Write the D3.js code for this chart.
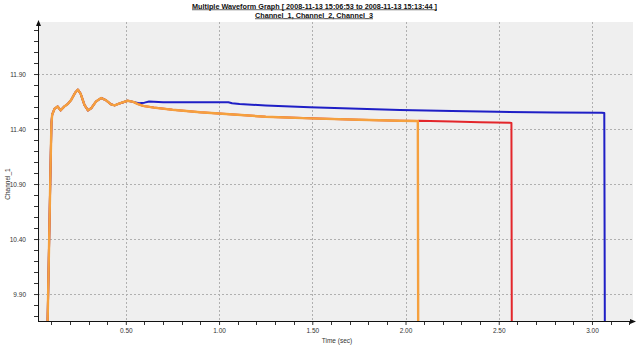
<!DOCTYPE html>
<html>
<head>
<meta charset="utf-8">
<script src="https://cdn.jsdelivr.net/npm/d3@7"></script>
<style>
  html, body { margin: 0; padding: 0; background: #ffffff; }
  svg { display: block; font-family: "Liberation Sans", Arial, sans-serif; }
</style>
</head>
<body>
<svg id="chart" width="640" height="348"></svg>
<script>
// Shared start-up transient (all three channels overlap here)
const startTime  = [0.080, 0.097, 0.101, 0.105, 0.118, 0.134, 0.150, 0.170, 0.190, 0.207, 0.228, 0.243, 0.258, 0.278, 0.297, 0.315, 0.340, 0.368, 0.395, 0.420, 0.440, 0.470, 0.510, 0.540];
const startValue = [9.60, 11.12, 11.45, 11.53, 11.585, 11.605, 11.57, 11.605, 11.63, 11.665, 11.73, 11.758, 11.72, 11.62, 11.57, 11.59, 11.65, 11.682, 11.66, 11.625, 11.615, 11.635, 11.657, 11.647];

// Channel tails after the transient
const ch1Time  = [0.570, 0.600, 0.625, 0.650, 0.700, 0.900, 1.050, 1.070, 1.110, 1.250, 1.487, 1.750, 1.970, 2.250, 2.490, 2.800, 3.053, 3.066, 3.069];
const ch1Value = [11.635, 11.640, 11.650, 11.648, 11.643, 11.643, 11.643, 11.634, 11.627, 11.614, 11.597, 11.585, 11.573, 11.563, 11.557, 11.551, 11.548, 11.545, 9.60];

const ch2Time  = [0.565, 0.594, 0.650, 0.750, 0.898, 1.058, 1.250, 1.487, 1.750, 1.970, 2.066, 2.072, 2.250, 2.400, 2.560, 2.568, 2.570];
const ch2Value = [11.627, 11.610, 11.595, 11.575, 11.552, 11.534, 11.512, 11.497, 11.485, 11.475, 11.473, 11.476, 11.468, 11.462, 11.457, 11.455, 9.60];

const ch3Time  = [0.565, 0.594, 0.650, 0.750, 0.898, 1.058, 1.250, 1.487, 1.750, 1.970, 2.066, 2.068];
const ch3Value = [11.627, 11.610, 11.595, 11.575, 11.552, 11.534, 11.512, 11.497, 11.485, 11.475, 11.473, 9.60];

const seriesNames  = ["Channel_1", "Channel_2", "Channel_3"];
const seriesColors = ["#1f1fc6", "#e3262b", "#f5a03e"];
const seriesWidths = [2, 2, 2.4];

const xMajorTicks = [0.5, 1.0, 1.5, 2.0, 2.5, 3.0];
const xMinorTicks = [0.1,0.2,0.3,0.4,0.6,0.7,0.8,0.9,1.1,1.2,1.3,1.4,1.6,1.7,1.8,1.9,2.1,2.2,2.3,2.4,2.6,2.7,2.8,2.9,3.1,3.2];
const yMajorTicks = [9.90, 10.40, 10.90, 11.40, 11.90];
const yMinorTicks = [9.70,9.80,10.00,10.10,10.20,10.30,10.50,10.60,10.70,10.80,11.00,11.10,11.20,11.30,11.50,11.60,11.70,11.80,12.00,12.10,12.20,12.30];

const titleLine1 = "Multiple Waveform Graph [ 2008-11-13 15:06:53 to 2008-11-13 15:13:44 ]";
const titleLine2 = "Channel_1, Channel_2, Channel_3";
const xTitle = "Time (sec)";
const yTitle = "Channel_1";

const svg = d3.select("#chart");
const L = 38, R = 633, T = 22, B = 321;

const x = d3.scaleLinear().domain([0.029, 3.22]).range([L, R]);
const y = d3.scaleLinear().domain([9.655, 12.373]).range([B, T]);

// plot background
svg.append("rect").attr("x", L).attr("y", T).attr("width", R - L).attr("height", B - T).attr("fill", "#efefef");

// dashed grid
const grid = svg.append("g").attr("stroke", "#b0b0b0").attr("stroke-width", 1).attr("stroke-dasharray", "2,2");
grid.selectAll(".gx").data(xMajorTicks).join("line")
  .attr("x1", d => Math.round(x(d)) + 0.5).attr("x2", d => Math.round(x(d)) + 0.5)
  .attr("y1", T).attr("y2", B);
grid.selectAll(".gy").data(yMajorTicks).join("line")
  .attr("y1", d => Math.round(y(d)) + 0.5).attr("y2", d => Math.round(y(d)) + 0.5)
  .attr("x1", L).attr("x2", R);

// series
const clip = svg.append("clipPath").attr("id", "plotClip");
clip.append("rect").attr("x", L).attr("y", T).attr("width", R - L).attr("height", B - T);

function build(tTail, vTail) {
  const t = startTime.concat(tTail), v = startValue.concat(vTail);
  return t.map((d, i) => [d, v[i]]);
}
const series = [build(ch1Time, ch1Value), build(ch2Time, ch2Value), build(ch3Time, ch3Value)];

const line = d3.line().x(d => x(d[0])).y(d => y(d[1]));
svg.append("g").attr("clip-path", "url(#plotClip)")
  .selectAll("path").data(series).join("path")
  .attr("d", line)
  .attr("fill", "none")
  .attr("stroke", (d, i) => seriesColors[i])
  .attr("stroke-width", (d, i) => seriesWidths[i])
  .attr("stroke-linejoin", "round");

// axes
const xAxis = d3.axisBottom(x).tickValues(xMajorTicks).tickFormat(d3.format(".2f")).tickSize(4).tickPadding(3);
const gx = svg.append("g").attr("transform", `translate(0,${B})`).call(xAxis);
gx.select(".domain").remove();
gx.selectAll(".tick line").attr("stroke", "#333");
gx.selectAll("text").attr("font-size", "6.5px").attr("fill", "#333").attr("font-family", "Liberation Sans, Arial, sans-serif");
svg.append("g").selectAll("line").data(xMinorTicks).join("line")
  .attr("x1", d => Math.round(x(d)) + 0.5).attr("x2", d => Math.round(x(d)) + 0.5)
  .attr("y1", B).attr("y2", B + 4).attr("stroke", "#333");

const yAxis = d3.axisLeft(y).tickValues(yMajorTicks).tickFormat(d3.format(".2f")).tickSize(4).tickPadding(8);
const gy = svg.append("g").attr("transform", `translate(${L},0)`).call(yAxis);
gy.select(".domain").remove();
gy.selectAll(".tick line").attr("stroke", "#333");
gy.selectAll("text").attr("font-size", "6.5px").attr("fill", "#333").attr("font-family", "Liberation Sans, Arial, sans-serif");
svg.append("g").selectAll("line").data(yMinorTicks).join("line")
  .attr("y1", d => Math.round(y(d)) + 0.5).attr("y2", d => Math.round(y(d)) + 0.5)
  .attr("x1", L - 4).attr("x2", L).attr("stroke", "#333");

// axis lines with arrowheads
svg.append("line").attr("x1", L + 0.5).attr("x2", L + 0.5).attr("y1", B + 0.5).attr("y2", T).attr("stroke", "#111");
svg.append("line").attr("x1", L).attr("x2", R).attr("y1", B + 0.5).attr("y2", B + 0.5).attr("stroke", "#111");
svg.append("path").attr("d", `M${L + 0.5},${T - 2} L${L - 2},${T + 4} L${L + 3},${T + 4} Z`).attr("fill", "#111");
svg.append("path").attr("d", `M${R + 3},${B + 0.5} L${R - 3},${B - 2} L${R - 3},${B + 3} Z`).attr("fill", "#111");

// titles
const title = svg.append("g").attr("font-weight", "bold").attr("font-size", "6.5px").attr("fill", "#111")
  .attr("text-anchor", "middle").attr("text-decoration", "underline");
title.append("text").attr("x", 314.5).attr("y", 8.5).attr("textLength", 245).attr("lengthAdjust", "spacingAndGlyphs").text(titleLine1);
title.append("text").attr("x", 314).attr("y", 17.5).attr("textLength", 118).attr("lengthAdjust", "spacingAndGlyphs").text(titleLine2);

svg.append("text").attr("x", 337).attr("y", 343).attr("text-anchor", "middle")
  .attr("font-size", "6.5px").attr("fill", "#333").text(xTitle);
svg.append("text").attr("transform", "translate(10,184) rotate(-90)").attr("text-anchor", "middle")
  .attr("font-size", "6.5px").attr("fill", "#333").text(yTitle);
</script>
</body>
</html>
